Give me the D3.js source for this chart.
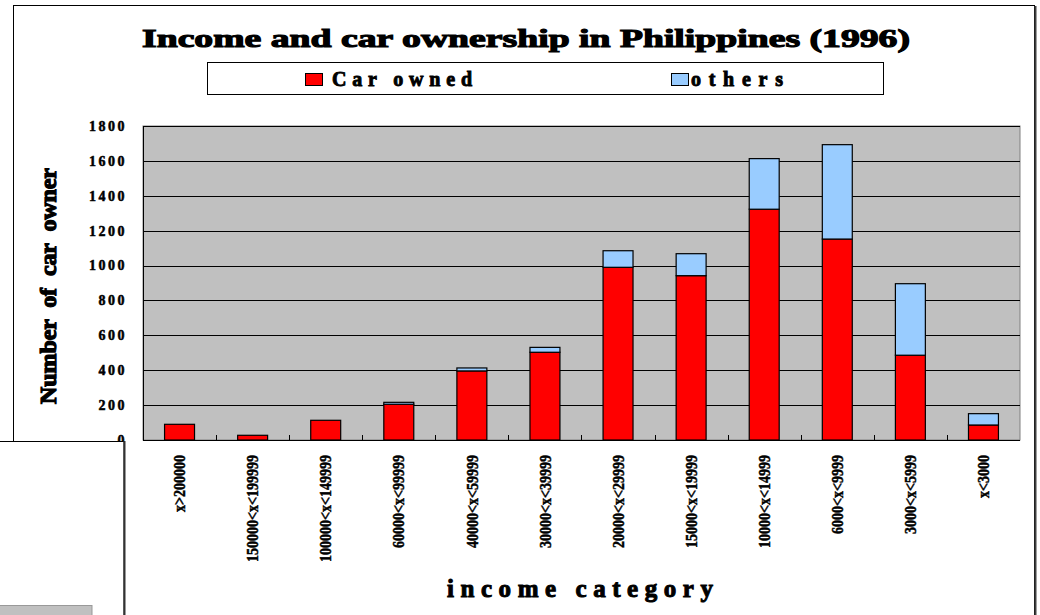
<!DOCTYPE html>
<html>
<head>
<meta charset="utf-8">
<script src="https://cdn.jsdelivr.net/npm/d3@7"></script>
<style>
  html, body { margin: 0; padding: 0; background: #fff; }
  svg { display: block; }
  text { font-family: "Liberation Serif", "DejaVu Serif", serif; font-weight: bold; fill: #000; stroke: #000; }
</style>
</head>
<body>
<svg id="chart" width="1040" height="615"></svg>
<script>
const categories = ["x>200000", "150000<x<199999", "100000<x<149999", "60000<x<99999",
  "40000<x<59999", "30000<x<39999", "20000<x<29999", "15000<x<19999",
  "10000<x<14999", "6000<x<9999", "3000<x<5999", "x<3000"];
const carOwned = [90, 27, 113, 205, 396, 503, 990, 942, 1323, 1152, 486, 86];
const others   = [0, 0, 0, 11, 17, 28, 95, 126, 290, 541, 410, 65];
const seriesNames = ["Car owned", "others"];
const yTicks = [0, 200, 400, 600, 800, 1000, 1200, 1400, 1600, 1800];
const titleText = "Income and car ownership in Philippines (1996)";
const yTitle = "Number of car owner";
const xTitle = "income category";

const colors = ["#FF0000", "#99CCFF"];
const svg = d3.select("#chart");

const plot = { left: 143, right: 1020, top: 126, bottom: 440 };

// outer chart frame
svg.append("rect").attr("x", 13.5).attr("y", 5.5).attr("width", 1021).attr("height", 700)
  .attr("fill", "#fff").attr("stroke", "#000").attr("stroke-width", 1);
svg.append("line").attr("x1", 1035.5).attr("x2", 1035.5).attr("y1", 6).attr("y2", 615)
  .attr("stroke", "#404040").attr("stroke-width", 2);

const x = d3.scaleBand().domain(categories).range([plot.left, plot.right])
  .paddingInner(0.59).paddingOuter(0.295);
const y = d3.scaleLinear().domain([0, 1800]).range([plot.bottom, plot.top]);

// plot area
svg.append("rect").attr("x", plot.left).attr("y", plot.top)
  .attr("width", plot.right - plot.left).attr("height", plot.bottom - plot.top)
  .attr("fill", "#C0C0C0").attr("stroke", "#808080").attr("stroke-width", 1);

// gridlines
svg.append("g").selectAll("line").data(yTicks.filter(d => d > 0)).join("line")
  .attr("x1", plot.left).attr("x2", plot.right)
  .attr("y1", d => Math.round(y(d)) + 0.5).attr("y2", d => Math.round(y(d)) + 0.5)
  .attr("stroke", "#000").attr("stroke-width", 1);

// axes lines
svg.append("line").attr("x1", plot.left).attr("x2", plot.right)
  .attr("y1", plot.bottom + 0.5).attr("y2", plot.bottom + 0.5).attr("stroke", "#000");
svg.append("line").attr("x1", plot.left + 0.5).attr("x2", plot.left + 0.5)
  .attr("y1", plot.top).attr("y2", plot.bottom).attr("stroke", "#000");

// x tick marks at band boundaries
const step = x.step();
const boundaries = categories.slice(0, -1).map(c => x(c) + x.bandwidth() / 2 + step / 2);
svg.append("g").selectAll("line").data(boundaries).join("line")
  .attr("x1", d => Math.round(d) + 0.5).attr("x2", d => Math.round(d) + 0.5)
  .attr("y1", plot.bottom).attr("y2", plot.bottom - 5)
  .attr("stroke", "#000");

// stacked bars
const rows = categories.map((c, i) => ({ cat: c, "Car owned": carOwned[i], "others": others[i] }));
const stack = d3.stack().keys(seriesNames)(rows);
svg.append("g").selectAll("g").data(stack).join("g")
  .attr("fill", (d, i) => colors[i])
  .selectAll("rect").data(d => d.filter(s => s[1] - s[0] > 0)).join("rect")
  .attr("x", d => x(d.data.cat))
  .attr("y", d => y(d[1]))
  .attr("width", x.bandwidth())
  .attr("height", d => y(d[0]) - y(d[1]))
  .attr("stroke", "#000").attr("stroke-width", 1.2);

// y tick labels
svg.append("g").selectAll("text").data(yTicks).join("text")
  .attr("x", 127).attr("y", d => y(d)).attr("dy", "0.35em")
  .attr("text-anchor", "end").style("font-size", "14px").style("letter-spacing", "2.5px")
  .style("stroke-width", "0.5px")
  .text(d => d);

// x tick labels (rotated)
svg.append("g").selectAll("text").data(categories).join("text")
  .attr("transform", d => `translate(${x(d) + x.bandwidth() / 2},455) rotate(-90) scale(1,1.15)`)
  .attr("dy", "0.35em").attr("text-anchor", "end")
  .style("font-size", "14px").style("stroke-width", "0.4px")
  .text(d => d);

// title
svg.append("text").attr("x", 142).attr("y", 47)
  .attr("textLength", 768).attr("lengthAdjust", "spacingAndGlyphs")
  .style("font-size", "25px").style("stroke-width", "1.1px").text(titleText);

// legend
svg.append("rect").attr("x", 207.5).attr("y", 62.5).attr("width", 676).attr("height", 32)
  .attr("fill", "#fff").attr("stroke", "#000");
const legendPos = [{ sx: 305, tx: 332, tl: 140 }, { sx: 671, tx: 691, tl: 92 }];
seriesNames.forEach((name, i) => {
  svg.append("rect").attr("x", legendPos[i].sx + 0.5).attr("y", 73.5).attr("width", 17).attr("height", 12)
    .attr("fill", colors[i]).attr("stroke", "#000");
  svg.append("text").attr("x", legendPos[i].tx).attr("y", 86)
    .attr("textLength", legendPos[i].tl).attr("lengthAdjust", "spacing")
    .style("font-size", "20px").style("stroke-width", "0.9px").text(name);
});

// y title
svg.append("text").attr("transform", "translate(56,286) rotate(-90)")
  .attr("text-anchor", "middle")
  .attr("textLength", 236).attr("lengthAdjust", "spacing")
  .style("font-size", "24px").style("stroke-width", "1.2px").style("word-spacing", "6px").text(yTitle);

// x title
svg.append("text").attr("x", 447).attr("y", 597)
  .attr("textLength", 266).attr("lengthAdjust", "spacing")
  .style("font-size", "25px").style("stroke-width", "1px").text(xTitle);

// overlapping box at bottom-left
svg.append("rect").attr("x", -5).attr("y", 441.5).attr("width", 129).attr("height", 200)
  .attr("fill", "#fff").attr("stroke", "#000");
svg.append("line").attr("x1", 124.5).attr("x2", 124.5).attr("y1", 441).attr("y2", 615)
  .attr("stroke", "#333").attr("stroke-width", 2);
svg.append("rect").attr("x", -5).attr("y", 605.5).attr("width", 97).attr("height", 20)
  .attr("fill", "#C0C0C0").attr("stroke", "#999");
</script>
</body>
</html>
